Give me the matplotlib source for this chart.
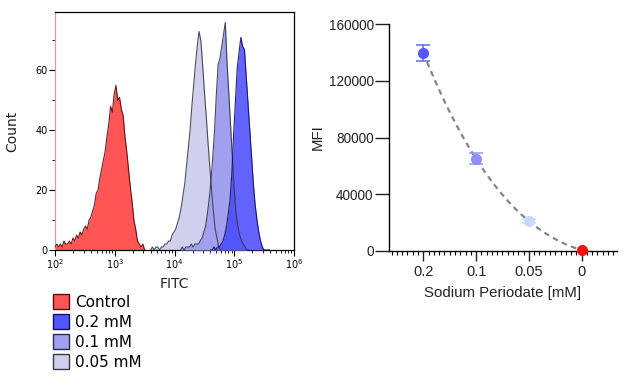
import numpy as np
import matplotlib
matplotlib.use("Agg")
import matplotlib.pyplot as plt
from matplotlib.patches import Patch
from matplotlib.ticker import LogLocator, MultipleLocator, FixedLocator, NullFormatter

# --- histogram data (log10 FITC bin centres, counts) ---
STEP = 0.03
control_start = 2.00
control_counts = [1, 2, 1, 2, 1, 3, 2, 2, 3, 2, 4, 3, 5, 4, 6, 5, 7, 8, 7, 10,
                  11, 13, 15, 19, 20, 24, 27, 30, 33, 38, 42, 48, 46, 52, 55, 50,
                  51, 47, 45, 38, 33, 27, 21, 16, 10, 7, 3, 2, 1, 2, 0]
mm005_start = 3.60
mm005_counts = [0, 1, 0, 1, 1, 0, 1, 1, 2, 2, 3, 3, 5, 6, 7, 9, 11, 14, 18, 22,
                28, 34, 40, 48, 55, 62, 68, 73, 70, 62, 53, 45, 36, 28, 20, 13,
                7, 4, 1, 0, 0]
mm01_start = 4.10
mm01_counts = [0, 1, 0, 1, 1, 1, 2, 1, 2, 2, 2, 3, 4, 6, 8, 12, 17, 23, 31, 40,
               52, 62, 64, 68, 72, 76, 62, 52, 41, 30, 20, 12, 8, 5, 3, 2, 1, 0, 0]
mm02_start = 4.60
mm02_counts = [0, 0, 1, 0, 1, 1, 2, 3, 5, 8, 12, 17, 26, 39, 50, 61, 66, 71, 68,
               67, 58, 49, 40, 31, 22, 15, 10, 6, 3, 1, 0, 0, 0, 0]

legend_labels = ["Control", "0.2 mM", "0.1 mM", "0.05 mM"]

# --- MFI data ---
conc_labels = ["0.2", "0.1", "0.05", "0"]
mfi = [140000, 65000, 21000, 500]
mfi_err = [5700, 4000, 1500, 0]
point_colors = ["#5757f7", "#8f8ff7", "#c6d9f7", "#ff1010"]

plt.rcParams['font.family'] = ['DejaVu Sans']
fig = plt.figure(figsize=(6.33, 3.87), dpi=100)

# ---------------- left: histogram ----------------
ax1 = fig.add_axes([0.0869, 0.354, 0.3776, 0.615])

hists = [
    (control_start, control_counts, "#ff5555", "#5a0a0a", 1.0),
    (mm005_start, mm005_counts, "#d0d0ee", "#3a3a4a", 1.0),
    (mm01_start, mm01_counts, "#a0a0ee", "#33334f", 1.0),
    (mm02_start, mm02_counts, "#4848ff", "#10105a", 0.85),
]
# fills first, outlines on top so hidden flanks stay visible
for i, (start, counts, face, edge, a) in enumerate(hists):
    x = 10 ** (start + STEP * np.arange(len(counts)))
    ax1.fill_between(x, counts, 0, color=face, alpha=a, lw=0, zorder=1 + i)
for start, counts, face, edge, a in hists:
    x = 10 ** (start + STEP * np.arange(len(counts)))
    ax1.plot(x, counts, color=edge, lw=0.8, alpha=0.9, zorder=6)

ax1.set_xscale('log')
ax1.set_xlim(1e2, 1e6)
ax1.set_ylim(0, 79.5)
ax1.xaxis.set_major_locator(LogLocator(base=10, numticks=10))
ax1.xaxis.set_minor_locator(LogLocator(base=10, subs=np.arange(2, 10), numticks=20))
ax1.xaxis.set_minor_formatter(NullFormatter())
ax1.yaxis.set_major_locator(FixedLocator([0, 20, 40, 60]))
ax1.yaxis.set_minor_locator(FixedLocator([10, 30, 50, 70]))
ax1.tick_params(axis='both', which='major', length=4, width=0.8, labelsize=7, pad=1.5)
ax1.tick_params(axis='both', which='minor', length=2, width=0.6)
for s in ax1.spines.values():
    s.set_linewidth(0.9)
ax1.spines['left'].set_color("#c8a0a0")
ax1.set_xlabel("FITC", fontsize=10, color="#222222", labelpad=4)
ax1.set_ylabel("Count", fontsize=10, color="#222222", labelpad=11)

handles = [
    Patch(facecolor="#ff5555", edgecolor="#5a0a0a", lw=1),
    Patch(facecolor="#5555ff", edgecolor="#10105a", lw=1),
    Patch(facecolor="#a0a0ee", edgecolor="#2a2a55", lw=1),
    Patch(facecolor="#d0d0ee", edgecolor="#3a3a4a", lw=1),
]
fig.legend(handles, legend_labels, loc='upper left', bbox_to_anchor=(0.083, 0.24),
           frameon=False, fontsize=11, handlelength=1.1, handleheight=1.1,
           handletextpad=0.35, labelspacing=0.3, borderaxespad=0, borderpad=0)

# ---------------- right: MFI ----------------
ax2 = fig.add_axes([0.6145, 0.352, 0.3602, 0.585])
xpos = np.arange(len(conc_labels))

coef = np.polyfit(xpos, mfi, 3)
xs = np.linspace(xpos[0], xpos[-1], 100)
ax2.plot(xs, np.polyval(coef, xs), ls=(0, (2.5, 2)), color="#858585", lw=1.6, zorder=2)

for i in range(len(xpos)):
    if mfi_err[i] > 0:
        ax2.errorbar(xpos[i], mfi[i], yerr=mfi_err[i], fmt='none', ecolor=point_colors[i],
                     elinewidth=1.2, capsize=5, capthick=1.2, alpha=0.85, zorder=3)
    ax2.plot(xpos[i], mfi[i], 'o', ms=8, color=point_colors[i], mec='none',
             zorder=4, clip_on=False)

ax2.set_xlim(-0.65, 3.67)
ax2.set_ylim(0, 160000)
ax2.set_xticks(xpos)
ax2.set_xticklabels(conc_labels)
ax2.xaxis.set_minor_locator(MultipleLocator(0.1))
ax2.set_yticks([0, 40000, 80000, 120000, 160000])
ax2.spines['top'].set_visible(False)
ax2.spines['right'].set_visible(False)
for s in ['left', 'bottom']:
    ax2.spines[s].set_linewidth(1.0)
ax2.tick_params(axis='x', which='major', length=7, width=1.0, labelsize=10.5,
                colors='#222222', pad=3)
ax2.tick_params(axis='y', which='major', length=10, width=1.0, labelsize=9.8,
                colors='#222222', pad=1)
ax2.tick_params(axis='x', which='minor', length=3, width=0.8)
for lab in ax2.get_xticklabels() + ax2.get_yticklabels():
    lab.set_family('Liberation Sans')
ax2.set_xlabel("Sodium Periodate [mM]", fontsize=10.8, family='Liberation Sans',
               color='#222222', labelpad=5)
ax2.set_ylabel("MFI", fontsize=10.8, family='Liberation Sans', color='#222222', labelpad=3)

fig.savefig("out.png", dpi=100)
